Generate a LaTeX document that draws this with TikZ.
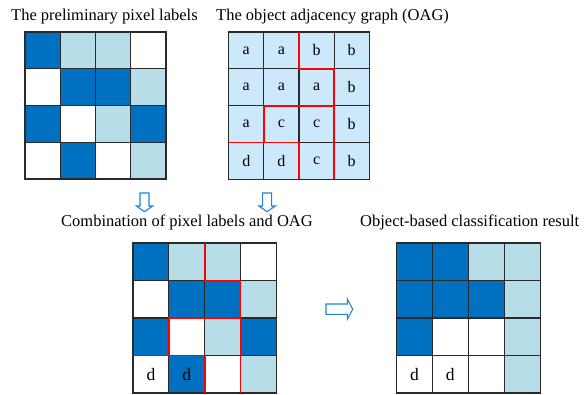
\documentclass[tikz,border=0pt]{standalone}
\usepackage{fontspec}
\setmainfont{Liberation Serif}
\definecolor{dblue}{HTML}{0070C0}
\definecolor{lblue}{HTML}{B7DDE8}
\definecolor{oblue}{HTML}{CCE9FB}
\definecolor{arrcol}{HTML}{2383D3}
\definecolor{gridcol}{HTML}{2A2A2A}
\tikzset{
  cellline/.style={draw=gridcol, line width=1.2pt},
  redline/.style={draw=red, line width=1.8pt, line join=miter},
  title/.style={anchor=base west, inner sep=0pt, font=\fontsize{16.5}{19}\selectfont},
  letter/.style={inner sep=0pt, font=\fontsize{16}{18}\selectfont},
  bigletter/.style={inner sep=0pt, font=\fontsize{17.5}{20}\selectfont},
  blockarrow/.style={draw=arrcol, fill=white, line width=1.1pt, line join=miter}
}
\begin{document}
\begin{tikzpicture}[x=1pt, y=-1pt]
\useasboundingbox (0,0) rectangle (586,394);
% titles
\node[title] (t1) at (11,20) {The preliminary pixel labels};
\node[title] (t2) at (216,20) {The object adjacency graph (OAG)};
\node[title] (t3) at (61,226) {Combination of pixel labels and OAG};
\node[title] (t4) at (360,226) {Object-based classification result};
% grid 1
\begin{scope}[shift={(25,32)}, x=35.25pt, y=-36.75pt]
\foreach \col [count=\i from 0] in {dblue,lblue,lblue,white, white,dblue,dblue,lblue, dblue,white,lblue,dblue, white,dblue,white,lblue}{
  \pgfmathtruncatemacro\cx{mod(\i,4)}
  \pgfmathtruncatemacro\cy{(\i-\cx)/4}
  \path[fill=\col, cellline] (\cx,\cy) rectangle ++(1,1);
}
\end{scope}
% grid 2 (OAG)
\begin{scope}[shift={(228.7,32)}, x=35.15pt, y=-36.8pt]
\foreach \lab [count=\i from 0] in {a,a,b,b, a,a,a,b, a,c,c,b, d,d,c,b}{
  \pgfmathtruncatemacro\cx{mod(\i,4)}
  \pgfmathtruncatemacro\cy{(\i-\cx)/4}
  \path[fill=oblue, cellline] (\cx,\cy) rectangle ++(1,1);
  \node[letter] (o\i) at (\cx+0.5,\cy+0.5) {\lab};
}
\draw[redline] (2,0) -- (2,1) -- (3,1) -- (3,4);
\draw[redline] (0,3) -- (1,3) -- (1,2) -- (3,2);
\draw[redline] (1,3) -- (2,3) -- (2,4);
\end{scope}
% grid 3 (combination)
\begin{scope}[shift={(133,243)}, x=35.8pt, y=-37.5pt]
\foreach \col [count=\i from 0] in {dblue,lblue,lblue,white, white,dblue,dblue,lblue, dblue,white,lblue,dblue, white,dblue,white,lblue}{
  \pgfmathtruncatemacro\cx{mod(\i,4)}
  \pgfmathtruncatemacro\cy{(\i-\cx)/4}
  \path[fill=\col, cellline] (\cx,\cy) rectangle ++(1,1);
}
\node[bigletter] (c12) at (0.5,3.5) {d};
\node[bigletter] (c13) at (1.5,3.5) {d};
\draw[redline] (2,0) -- (2,1) -- (3,1) -- (3,4);
\draw[redline] (0,3) -- (1,3) -- (1,2) -- (3,2);
\draw[redline] (1,3) -- (2,3) -- (2,4);
\end{scope}
% grid 4 (result)
\begin{scope}[shift={(396.5,243)}, x=35.9pt, y=-37.5pt]
\foreach \col [count=\i from 0] in {dblue,dblue,lblue,lblue, dblue,dblue,dblue,lblue, dblue,white,white,lblue, white,white,white,lblue}{
  \pgfmathtruncatemacro\cx{mod(\i,4)}
  \pgfmathtruncatemacro\cy{(\i-\cx)/4}
  \path[fill=\col, cellline] (\cx,\cy) rectangle ++(1,1);
}
\node[bigletter] (r12) at (0.5,3.5) {d};
\node[bigletter] (r13) at (1.5,3.5) {d};
\end{scope}
% block arrows
\draw[blockarrow] (140,193) -- (149,193) -- (149,206) -- (152.7,206) -- (144.5,211.7) -- (136.3,206) -- (140,206) -- cycle;
\draw[blockarrow] (262.6,193) -- (271.6,193) -- (271.6,206) -- (275.3,206) -- (267.1,211.7) -- (258.9,206) -- (262.6,206) -- cycle;
\draw[blockarrow] (326,304) -- (347.3,304) -- (347.3,299) -- (352.7,309.2) -- (347.3,319.3) -- (347.3,314.3) -- (326,314.3) -- cycle;
\end{tikzpicture}
\end{document}
